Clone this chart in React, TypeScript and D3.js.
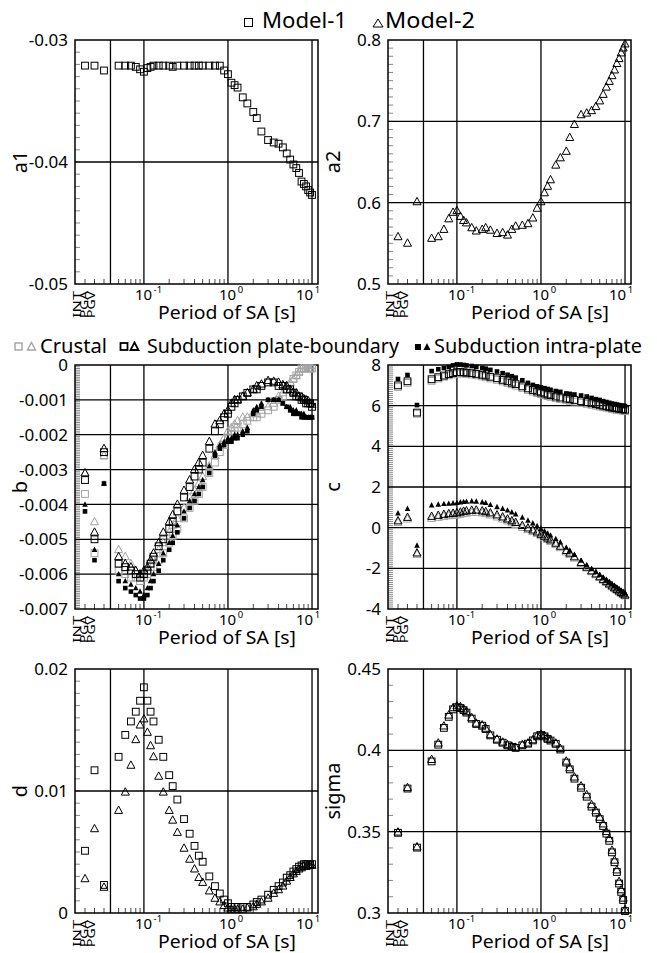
import React from "react";
import * as d3 from "d3";

// ---------- data ----------
const categories = ["INT", "PGA", "PGV"];
const periods = [
  0.05, 0.06, 0.07, 0.08, 0.09,
  0.1, 0.11, 0.12, 0.13,
  0.15, 0.17,
  0.2, 0.22, 0.25,
  0.3, 0.35, 0.4, 0.45, 0.5,
  0.6, 0.7, 0.8, 0.9,
  1.0, 1.1, 1.2, 1.3,
  1.5, 1.7,
  2.0, 2.2, 2.5,
  3.0, 3.5, 4.0, 4.5, 5.0, 5.5, 6.0, 6.5, 7.0, 7.5, 8.0, 8.5, 9.0, 9.5, 10.0,
];
const separatorPeriod = 0.04;
const decadeTicks = [0.1, 1, 10];
const decadeExponents = ["-1", "0", "1"];

// values: INT, PGA, PGV, then one per period
const a1Model1 = [
  -0.0321, -0.0321, -0.0325,
  -0.0321, -0.0321, -0.0321, -0.0322, -0.0324,
  -0.0326, -0.0323, -0.0322, -0.0321,
  -0.0321, -0.0321,
  -0.0321, -0.0322, -0.0321,
  -0.0321, -0.0321, -0.0321, -0.0321, -0.0321,
  -0.0321, -0.0321, -0.0321, -0.0325,
  -0.0328, -0.0335, -0.0337, -0.0339,
  -0.0347, -0.0352,
  -0.0359, -0.0364, -0.0375,
  -0.0382, -0.0384, -0.0385, -0.0388, -0.0393, -0.0398, -0.0402, -0.0405, -0.0409, -0.0416, -0.0418, -0.042, -0.0423, -0.0425, -0.0427,
];
const a2Model2 = [
  0.558, 0.55, 0.601,
  0.556, 0.558, 0.567, 0.58, 0.588,
  0.59, 0.583, 0.578, 0.575,
  0.569, 0.565,
  0.567, 0.569, 0.566,
  0.562, 0.563, 0.56, 0.567, 0.571,
  0.572, 0.574, 0.581, 0.593,
  0.601, 0.612, 0.62, 0.628,
  0.646, 0.655,
  0.663, 0.68, 0.696,
  0.708, 0.71, 0.713, 0.718, 0.725, 0.733, 0.742, 0.749, 0.756, 0.763, 0.771, 0.777, 0.784, 0.79, 0.795,
];

const bCrustalM1 = [
  -0.0037, -0.0054, -0.0026,
  -0.0059, -0.006, -0.0061, -0.0061, -0.0062,
  -0.0061, -0.006, -0.0059, -0.0058,
  -0.0056, -0.0054,
  -0.0051, -0.0049, -0.0047,
  -0.0044, -0.0041, -0.0039, -0.0037, -0.0035,
  -0.0031, -0.0028, -0.0025, -0.0023,
  -0.0021, -0.002, -0.0019, -0.0018,
  -0.0017, -0.0016,
  -0.0015, -0.0015, -0.0014,
  -0.0013, -0.0012, -0.001, -0.0009, -0.0007, -0.0006, -0.0004, -0.0003, -0.0002, -0.0001, -0.0001, -0.0001, -0.0001, -0.0001, -0.0001,
];
const bCrustalM2 = [
  -0.0031, -0.0045, -0.0026,
  -0.0053, -0.0055, -0.0057, -0.0059, -0.006,
  -0.006, -0.0059, -0.0057, -0.0056,
  -0.0053, -0.0051,
  -0.0048, -0.0046, -0.0044,
  -0.0041, -0.0038, -0.0036, -0.0034, -0.0032,
  -0.0029, -0.0026, -0.0023, -0.0021,
  -0.0019, -0.0018, -0.0017, -0.0016,
  -0.0015, -0.0015,
  -0.0014, -0.0014, -0.0013,
  -0.0012, -0.0011, -0.0009, -0.0008, -0.0006, -0.0005, -0.0004, -0.0003, -0.0002, -0.0001, -0.0001, -0.0001, -0.0001, -0.0001, -0.0001,
];
const bPlateM1 = [
  -0.0033, -0.005, -0.0025,
  -0.0057, -0.0058, -0.0059, -0.006, -0.0061,
  -0.006, -0.0059, -0.0057, -0.0055,
  -0.0052, -0.005,
  -0.0047, -0.0045, -0.0042,
  -0.0038, -0.0035, -0.0032, -0.003, -0.0028,
  -0.0024, -0.0019, -0.0017, -0.0015,
  -0.0014, -0.0012, -0.0011, -0.001,
  -0.0009, -0.0008,
  -0.0007, -0.0007, -0.0006,
  -0.0005, -0.0005, -0.0006, -0.0006, -0.0007, -0.0007, -0.0008, -0.0009, -0.0009, -0.001, -0.001, -0.0011, -0.0011, -0.0011, -0.0012,
];
const bPlateM2 = [
  -0.0031, -0.0048, -0.0024,
  -0.0055, -0.0057, -0.0058, -0.0059, -0.006,
  -0.0059, -0.0058, -0.0056, -0.0054,
  -0.0051, -0.0048,
  -0.0045, -0.0043, -0.004,
  -0.0036, -0.0033, -0.003, -0.0028, -0.0026,
  -0.0022, -0.0017, -0.0016, -0.0014,
  -0.0013, -0.0011, -0.001, -0.001,
  -0.0009, -0.0008,
  -0.0007, -0.0006, -0.00055,
  -0.00045, -0.00047, -0.0005, -0.00057, -0.0006, -0.0007, -0.00078, -0.0008, -0.0009, -0.00093, -0.00097, -0.001, -0.00103, -0.0011, -0.00113,
];
const bIntraM1 = [
  -0.0042, -0.0056, -0.0034,
  -0.0062, -0.0064, -0.0065, -0.0066, -0.0067,
  -0.0067, -0.0066, -0.0064, -0.0062,
  -0.0059, -0.0056,
  -0.0053, -0.0051, -0.0048,
  -0.0044, -0.0041, -0.0039, -0.0037, -0.0035,
  -0.0031, -0.0026, -0.0024, -0.0023,
  -0.0022, -0.0022, -0.0021, -0.0021,
  -0.002, -0.0019,
  -0.0014, -0.0013, -0.0012,
  -0.001, -0.001, -0.001, -0.0011, -0.0012, -0.0013, -0.0014, -0.0014, -0.0014, -0.0015, -0.0015, -0.0015, -0.0015, -0.0015, -0.0015,
];
const bIntraM2 = [
  -0.004, -0.0053, -0.0034,
  -0.006, -0.0062, -0.0063, -0.0064, -0.0065,
  -0.0066, -0.0064, -0.0062, -0.006,
  -0.0057, -0.0054,
  -0.0051, -0.0049, -0.0046,
  -0.0042, -0.0039, -0.0037, -0.0035, -0.0033,
  -0.0029, -0.0025, -0.0023, -0.0022,
  -0.0021, -0.0021, -0.002, -0.002,
  -0.0019, -0.0018,
  -0.0013, -0.0012, -0.0011,
  -0.001, -0.001, -0.001, -0.0011, -0.0012, -0.0012, -0.0013, -0.0013, -0.0014, -0.0014, -0.0014, -0.0015, -0.0015, -0.0015, -0.0015,
];

const cCrustalM1 = [
  6.92, 7.12, 5.6,
  7.22, 7.33, 7.42, 7.49, 7.54,
  7.58, 7.59, 7.58, 7.56,
  7.53, 7.49,
  7.44, 7.4, 7.34,
  7.27, 7.19, 7.12, 7.05, 6.98,
  6.87, 6.77, 6.69, 6.62,
  6.57, 6.52, 6.47, 6.43,
  6.37, 6.32,
  6.27, 6.24, 6.2,
  6.14, 6.09, 6.04, 6.0, 5.96, 5.93, 5.9, 5.87, 5.84, 5.82, 5.8, 5.78, 5.77, 5.75, 5.73,
];
const cPlateM1 = [
  7.0, 7.2, 5.66,
  7.3, 7.4, 7.48, 7.55, 7.6,
  7.65, 7.65, 7.64, 7.62,
  7.6, 7.56,
  7.52, 7.48, 7.42,
  7.35, 7.27, 7.2, 7.13, 7.06,
  6.95, 6.85, 6.77, 6.7,
  6.65, 6.6, 6.55, 6.52,
  6.45, 6.4,
  6.35, 6.32, 6.28,
  6.22, 6.17, 6.12, 6.08, 6.04, 6.0, 5.97, 5.94, 5.91, 5.89, 5.87, 5.85, 5.84, 5.82, 5.8,
];
const cIntraM1 = [
  7.31, 7.51, 6.03,
  7.7, 7.79, 7.85, 7.9, 7.98,
  8.03, 8.02, 8.0, 7.98,
  7.95, 7.9,
  7.85, 7.82, 7.76,
  7.68, 7.6, 7.52, 7.45, 7.38,
  7.25, 7.12, 7.02, 6.95,
  6.9, 6.86, 6.82, 6.78,
  6.72, 6.68,
  6.6, 6.58, 6.55,
  6.5, 6.45, 6.38, 6.32, 6.28, 6.22, 6.18, 6.14, 6.1, 6.08, 6.05, 6.03, 6.01, 6.0, 5.98,
];
const cCrustalM2 = [
  0.25, 0.42, -1.32,
  0.45, 0.5, 0.55, 0.58, 0.6,
  0.62, 0.66, 0.69, 0.71,
  0.74, 0.75,
  0.72, 0.68, 0.62,
  0.52, 0.42, 0.32, 0.23, 0.15,
  0.0, -0.1, -0.2, -0.3,
  -0.4, -0.5, -0.59, -0.68,
  -0.84, -0.99,
  -1.2, -1.32, -1.5,
  -1.77, -1.99, -2.17, -2.32, -2.46, -2.59, -2.7, -2.81, -2.91, -3.0, -3.08, -3.16, -3.23, -3.3, -3.36,
];
const cPlateM2 = [
  0.33, 0.5, -1.25,
  0.55, 0.6, 0.65, 0.68, 0.7,
  0.72, 0.76, 0.8, 0.82,
  0.85, 0.86,
  0.82, 0.78, 0.72,
  0.62, 0.52, 0.42, 0.33, 0.25,
  0.1, -0.02, -0.12, -0.22,
  -0.33, -0.43, -0.52, -0.61,
  -0.77, -0.92,
  -1.13, -1.26, -1.44,
  -1.72, -1.95, -2.13, -2.28, -2.42, -2.55, -2.66, -2.77, -2.87, -2.96, -3.04, -3.12, -3.19, -3.26, -3.32,
];
const cIntraM2 = [
  0.71, 0.93, -0.88,
  1.1, 1.14, 1.17, 1.18, 1.2,
  1.22, 1.25, 1.27, 1.28,
  1.3, 1.29,
  1.25, 1.22, 1.12,
  1.02, 0.93, 0.85, 0.76, 0.66,
  0.5, 0.35, 0.22, 0.08,
  -0.05, -0.17, -0.28, -0.38,
  -0.55, -0.72,
  -0.98, -1.12, -1.33,
  -1.62, -1.85, -2.03, -2.18, -2.32, -2.45, -2.56, -2.67, -2.77, -2.86, -2.94, -3.02, -3.09, -3.15, -3.2,
];

const dModel1 = [
  0.0051, 0.0117, 0.0023,
  0.0128, 0.0146, 0.0157, 0.0165, 0.0174,
  0.0185, 0.0174, 0.0165, 0.0157,
  0.0142, 0.0128,
  0.0113, 0.0104, 0.0093,
  0.0077, 0.0065, 0.0055, 0.0047, 0.0042,
  0.003, 0.0022, 0.0016, 0.0011,
  0.0008, 0.0005, 0.0005, 0.0005,
  0.0005, 0.0005,
  0.0007, 0.0009, 0.0011,
  0.0015, 0.0019, 0.0022, 0.0025, 0.0029, 0.0031, 0.0034, 0.0036, 0.0038, 0.0039, 0.004, 0.004, 0.004, 0.004, 0.004,
];
const dModel2 = [
  0.0028, 0.0069, 0.0021,
  0.0084, 0.0099, 0.0121, 0.0142, 0.0154,
  0.0159, 0.0148, 0.0137, 0.0128,
  0.0112, 0.0099,
  0.0084, 0.0076, 0.0066,
  0.0053, 0.0044, 0.0036, 0.0029, 0.0025,
  0.0018, 0.0012, 0.0009, 0.0006,
  0.0004, 0.0003, 0.0003, 0.0003,
  0.0003, 0.0004,
  0.0005, 0.0007, 0.0009,
  0.0012, 0.0016, 0.0019, 0.0022, 0.0026, 0.0029, 0.0032, 0.0034, 0.0036, 0.0037, 0.0038, 0.0038, 0.0039, 0.0039, 0.0039,
];

const sigmaModel1 = [
  0.3493, 0.3765, 0.3402,
  0.3932, 0.4035, 0.4138, 0.4206, 0.4252,
  0.4265, 0.426, 0.4247, 0.4232,
  0.4195, 0.4162,
  0.4151, 0.4131, 0.4092,
  0.4065, 0.4047, 0.4031, 0.4021, 0.4015,
  0.4031, 0.4041, 0.4061, 0.4086,
  0.4094, 0.4086, 0.407, 0.406,
  0.404, 0.4005,
  0.3925, 0.3883, 0.3826,
  0.377, 0.3715, 0.3654, 0.3617, 0.3577, 0.3535, 0.3488, 0.3444, 0.3373, 0.3312, 0.3252, 0.3181, 0.313, 0.308, 0.3012,
];
const sigmaModel2 = [
  0.3497, 0.377, 0.3406,
  0.3943, 0.4044, 0.4149, 0.4216, 0.4261,
  0.4273, 0.4267, 0.4253, 0.4237,
  0.42, 0.4166,
  0.4155, 0.4135, 0.4095,
  0.4068, 0.405, 0.4034, 0.4024, 0.4018,
  0.4034, 0.4044, 0.4064, 0.409,
  0.4098, 0.409, 0.4074, 0.4064,
  0.4044, 0.401,
  0.3933, 0.3892, 0.3835,
  0.378, 0.3726, 0.3665, 0.3628, 0.3588, 0.3547, 0.35, 0.3456, 0.3385, 0.3324, 0.3264, 0.3193, 0.3142, 0.3091, 0.302,
];

// tick labels
const a1Ticks = [-0.03, -0.04, -0.05];
const a1TickLabels = ["-0.03", "-0.04", "-0.05"];
const a2Ticks = [0.8, 0.7, 0.6, 0.5];
const a2TickLabels = ["0.8", "0.7", "0.6", "0.5"];
const bTicks = [0, -0.001, -0.002, -0.003, -0.004, -0.005, -0.006, -0.007];
const bTickLabels = ["0", "-0.001", "-0.002", "-0.003", "-0.004", "-0.005", "-0.006", "-0.007"];
const cTicks = [8, 6, 4, 2, 0, -2, -4];
const cTickLabels = ["8", "6", "4", "2", "0", "-2", "-4"];
const dTicks = [0.02, 0.01, 0];
const dTickLabels = ["0.02", "0.01", "0"];
const sigmaTicks = [0.45, 0.4, 0.35, 0.3];
const sigmaTickLabels = ["0.45", "0.4", "0.35", "0.3"];

// ---------- styling / layout ----------
const FONT = "'Noto Sans', 'Open Sans', sans-serif";
const BLACK = "#000";
const GRAY = "#a3a3a3";
const PW = 243;
const PH = 244;
const COL_X = [75, 388];
const ROW_Y = [40, 365, 669];

type Series = { values: number[]; shape: "sq" | "tri"; filled: boolean; color: string };
type PanelCfg = {
  col: number;
  row: number;
  title: string;
  domain: [number, number];
  ticks: number[];
  tickLabels: string[];
  minorStep: number;
  series: Series[];
};

const openSq = (c: string) => ({ shape: "sq" as const, filled: false, color: c });
const openTri = (c: string) => ({ shape: "tri" as const, filled: false, color: c });

const panels: PanelCfg[] = [
  { col: 0, row: 0, title: "a1", domain: [-0.05, -0.03], ticks: a1Ticks, tickLabels: a1TickLabels, minorStep: 0.001,
    series: [{ values: a1Model1, ...openSq(BLACK) }] },
  { col: 1, row: 0, title: "a2", domain: [0.5, 0.8], ticks: a2Ticks, tickLabels: a2TickLabels, minorStep: 0.01,
    series: [{ values: a2Model2, ...openTri(BLACK) }] },
  { col: 0, row: 1, title: "b", domain: [-0.007, 0], ticks: bTicks, tickLabels: bTickLabels, minorStep: 0.00005,
    series: [
      { values: bCrustalM1, ...openSq(GRAY) },
      { values: bCrustalM2, ...openTri(GRAY) },
      { values: bPlateM1, ...openSq(BLACK) },
      { values: bPlateM2, ...openTri(BLACK) },
      { values: bIntraM1, shape: "sq", filled: true, color: BLACK },
      { values: bIntraM2, shape: "tri", filled: true, color: BLACK },
    ] },
  { col: 1, row: 1, title: "c", domain: [-4, 8], ticks: cTicks, tickLabels: cTickLabels, minorStep: 0.1,
    series: [
      { values: cCrustalM1, ...openSq(GRAY) },
      { values: cCrustalM2, ...openTri(GRAY) },
      { values: cPlateM1, ...openSq(BLACK) },
      { values: cPlateM2, ...openTri(BLACK) },
      { values: cIntraM1, shape: "sq", filled: true, color: BLACK },
      { values: cIntraM2, shape: "tri", filled: true, color: BLACK },
    ] },
  { col: 0, row: 2, title: "d", domain: [0, 0.02], ticks: dTicks, tickLabels: dTickLabels, minorStep: 0.001,
    series: [
      { values: dModel1, ...openSq(BLACK) },
      { values: dModel2, ...openTri(BLACK) },
    ] },
  { col: 1, row: 2, title: "sigma", domain: [0.3, 0.45], ticks: sigmaTicks, tickLabels: sigmaTickLabels, minorStep: 0.01,
    series: [
      { values: sigmaModel1, ...openSq(BLACK) },
      { values: sigmaModel2, ...openTri(BLACK) },
    ] },
];

const xLog = d3.scaleLog().domain([0.01514, 11.78]).range([0, PW]);
const xCat = d3.scalePoint<string>().domain(categories).range([10, 29]);
const xAt = (i: number) => (i < categories.length ? (xCat(categories[i]) as number) : xLog(periods[i - categories.length]));
const catLabelX = [6, 13, 20];

function Marker({ cx, cy, s }: { cx: number; cy: number; s: Series }) {
  if (s.shape === "sq") {
    const h = s.filled ? 2.3 : 3.4;
    return (
      <rect x={cx - h} y={cy - h} width={2 * h} height={2 * h}
        fill={s.filled ? s.color : "none"} stroke={s.color} strokeWidth={s.filled ? 0 : 1} />
    );
  }
  const w = s.filled ? 2.8 : 4;
  const up = s.filled ? 3.2 : 4.5;
  const dn = s.filled ? 2.2 : 2.9;
  return (
    <path d={`M${cx},${cy - up}L${cx + w},${cy + dn}L${cx - w},${cy + dn}Z`}
      fill={s.filled ? s.color : "none"} stroke={s.color} strokeWidth={s.filled ? 0 : 1} strokeLinejoin="miter" />
  );
}

function Panel({ cfg }: { cfg: PanelCfg }) {
  const x0 = COL_X[cfg.col];
  const y0 = ROW_Y[cfg.row];
  const y = d3.scaleLinear().domain(cfg.domain).range([PH, 0]);
  const [lo, hi] = cfg.domain;
  const nMinor = Math.round((hi - lo) / cfg.minorStep);
  const minor = d3.range(1, nMinor).map((k) => lo + k * cfg.minorStep);
  const grid = cfg.ticks.filter((t) => t > lo + 1e-9 && t < hi - 1e-9);
  const xMinor = xLog.ticks().filter((t) => t > 0.045 && t < 10 && Math.abs(Math.log10(t) - Math.round(Math.log10(t))) > 1e-6);
  const vLines = [separatorPeriod, ...decadeTicks];
  return (
    <g transform={`translate(${x0},${y0})`}>
      {minor.map((v, i) => (
        <line key={"m" + i} x1={0} x2={5} y1={y(v)} y2={y(v)} stroke="#555" strokeWidth={0.7} />
      ))}
      {xMinor.map((t, i) => (
        <line key={"xm" + i} x1={xLog(t)} x2={xLog(t)} y1={PH} y2={PH - 5} stroke="#333" strokeWidth={0.9} />
      ))}
      {categories.map((c) => (
        <line key={"xc" + c} x1={xCat(c)} x2={xCat(c)} y1={PH} y2={PH - 5} stroke="#333" strokeWidth={0.9} />
      ))}
      {grid.map((v, i) => (
        <line key={"g" + i} x1={0} x2={PW} y1={y(v)} y2={y(v)} stroke={BLACK} strokeWidth={1.3} />
      ))}
      {vLines.map((t, i) => (
        <line key={"v" + i} x1={xLog(t)} x2={xLog(t)} y1={0} y2={PH} stroke={BLACK} strokeWidth={1.3} />
      ))}
      <rect x={0} y={0} width={PW} height={PH} fill="none" stroke={BLACK} strokeWidth={1.5} />
      {cfg.series.map((s, si) => (
        <g key={"s" + si}>
          {s.values.map((v, i) => (
            <Marker key={i} cx={xAt(i)} cy={y(v)} s={s} />
          ))}
        </g>
      ))}
      {cfg.ticks.map((t, i) => (
        <text key={"tl" + i} x={-7} y={y(t)} dy="0.36em" textAnchor="end" fontSize={17} fontFamily={FONT} fill={BLACK}>
          {cfg.tickLabels[i]}
        </text>
      ))}
      {decadeTicks.map((t, i) => (
        <text key={"dx" + i} x={xLog(t) + (i === 2 ? -16 : -9)} y={PH + 16} fontSize={15} fontFamily={FONT} fill={BLACK}>
          10
          <tspan fontSize={9.5} dx={1.5} dy={-7}>{decadeExponents[i]}</tspan>
        </text>
      ))}
      {categories.map((c, i) => (
        <text key={"cl" + c} transform={`translate(${catLabelX[i]},${PH + 7}) rotate(-90)`} textAnchor="end"
          fontSize={10} fontFamily={FONT} textLength={27} lengthAdjust="spacingAndGlyphs" fill={BLACK}>
          {c}
        </text>
      ))}
      <text transform={`translate(${-48},${PH / 2}) rotate(-90)`} textAnchor="middle" fontSize={20} fontFamily={FONT} fill={BLACK}>
        {cfg.title}
      </text>
      <text x={152} y={PH + 35} textAnchor="middle" fontSize={18.5} fontFamily={FONT} textLength={138}
        lengthAdjust="spacingAndGlyphs" fill={BLACK}>
        Period of SA [s]
      </text>
    </g>
  );
}

function Legends() {
  return (
    <g fontFamily={FONT} fill={BLACK}>
      <rect x={244.5} y={18.5} width={8} height={8} fill="none" stroke={BLACK} strokeWidth={1} />
      <text x={262} y={28} fontSize={21} textLength={85} lengthAdjust="spacingAndGlyphs">Model-1</text>
      <path d="M378,19L383,27L373,27Z" fill="none" stroke={BLACK} strokeWidth={1} />
      <text x={385} y={28} fontSize={21} textLength={90} lengthAdjust="spacingAndGlyphs">Model-2</text>

      <rect x={15} y={343} width={7} height={7} fill="none" stroke={GRAY} strokeWidth={1.4} />
      <path d="M31.5,342.5L35.5,350L27.5,350Z" fill="none" stroke={GRAY} strokeWidth={1.4} />
      <text x={40} y={353} fontSize={19} textLength={67} lengthAdjust="spacingAndGlyphs">Crustal</text>
      <rect x={120.5} y={343} width={7} height={7} fill="none" stroke={BLACK} strokeWidth={1.8} />
      <path d="M134.5,342.5L138.5,350L130.5,350Z" fill="none" stroke={BLACK} strokeWidth={1.8} />
      <text x={147} y={353} fontSize={19} textLength={252} lengthAdjust="spacingAndGlyphs">Subduction plate-boundary</text>
      <rect x={415} y={344} width={6} height={6} fill={BLACK} />
      <path d="M427,343L430.5,350L423.5,350Z" fill={BLACK} />
      <text x={434} y={353} fontSize={19} textLength={208} lengthAdjust="spacingAndGlyphs">Subduction intra-plate</text>
    </g>
  );
}

export default function App() {
  return (
    <svg width={657} height={953} viewBox="0 0 657 953"
      style={{ position: "absolute", left: 0, top: 0, display: "block", background: "#fff" }}>
      <rect x={0} y={0} width={657} height={953} fill="#fff" />
      <Legends />
      {panels.map((p, i) => (
        <Panel key={i} cfg={p} />
      ))}
    </svg>
  );
}
